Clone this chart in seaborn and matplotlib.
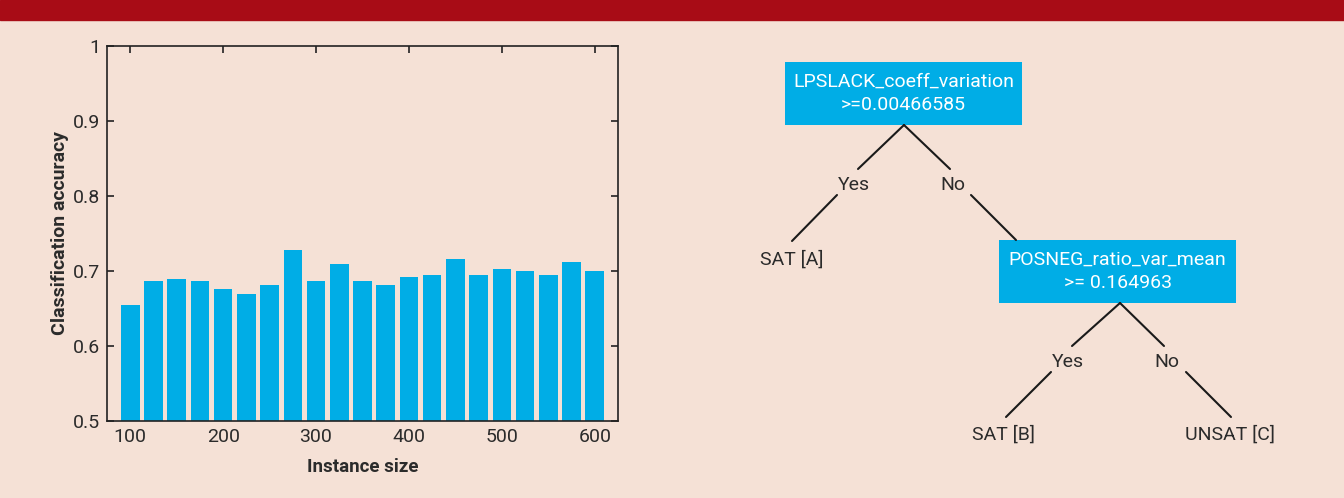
import matplotlib
matplotlib.use("Agg")
import matplotlib.pyplot as plt
import seaborn as sns
import numpy as np

# bar chart data
instance_size = [100, 125, 150, 175, 200, 225, 250, 275, 300, 325, 350,
                 375, 400, 425, 450, 475, 500, 525, 550, 575, 600]
accuracy = [0.654, 0.687, 0.689, 0.687, 0.676, 0.669, 0.681, 0.728, 0.687, 0.709, 0.687,
            0.681, 0.692, 0.695, 0.716, 0.695, 0.703, 0.700, 0.695, 0.712, 0.700]
yticks = [0.5, 0.6, 0.7, 0.8, 0.9, 1]
ytick_labels = ["0.5", "0.6", "0.7", "0.8", "0.9", "1"]
xticks = [100, 200, 300, 400, 500, 600]

# decision tree text
node_labels = ["LPSLACK_coeff_variation\n>=0.00466585", "POSNEG_ratio_var_mean\n>= 0.164963"]
leaf_labels = ["SAT [A]", "SAT [B]", "UNSAT [C]"]
branch_labels = ["Yes", "No", "Yes", "No"]

BG = "#f5e1d6"
BLUE = "#00ade6"
RED = "#a80c16"
TXT = "#2b2b2b"

sns.set_theme(style="ticks")
plt.rcParams["font.family"] = ["Roboto", "DejaVu Sans"]

fig = plt.figure(figsize=(13.44, 4.98), dpi=100, facecolor=BG)

# red stripe along the top
fig.patches.append(plt.Rectangle((0, 1 - 20 / 498), 1, 20 / 498, transform=fig.transFigure,
                                 color=RED, zorder=0))

ax = fig.add_axes([107 / 1344, 77 / 498, 511 / 1344, 375 / 498])
ax.set_facecolor(BG)
sns.barplot(x=instance_size, y=accuracy, native_scale=True, color=BLUE,
            saturation=1, width=0.8, linewidth=0, edgecolor=BLUE, ax=ax, zorder=1)
ax.set_xlim(75, 625)
ax.set_ylim(0.5, 1)
ax.set_xticks(xticks)
ax.set_xticklabels([str(t) for t in xticks])
ax.set_yticks(yticks)
ax.set_yticklabels(ytick_labels)
ax.tick_params(direction="in", top=True, right=True, length=5, width=1.2,
               labelsize=14, color="#222222", labelcolor=TXT, pad=5)
for s in ax.spines.values():
    s.set_linewidth(1.2)
    s.set_color("#222222")
    s.set_zorder(3)
ax.set_xlabel("Instance size", fontsize=13.5, fontweight="bold", color=TXT, labelpad=9)
ax.set_ylabel("Classification accuracy", fontsize=14, fontweight="bold", color=TXT, labelpad=3)

# tree diagram, drawn in pixel space
tx = fig.add_axes([0, 0, 1, 1], facecolor="none")
tx.set_xlim(0, 1344)
tx.set_ylim(498, 0)
tx.axis("off")

boxes = [(785, 62, 237, 63), (999, 240, 237, 63)]
for (bx, by, bw, bh), lab in zip(boxes, node_labels):
    tx.add_patch(plt.Rectangle((bx, by), bw, bh, color=BLUE, lw=0))
    tx.text(bx + bw / 2, by + bh / 2, lab, color="white", ha="center", va="center",
            fontsize=14, linespacing=1.4)

edges = [((904, 125), (858, 169)), ((904, 125), (950, 169)),
         ((837, 195), (792, 241)), ((971, 195), (1016, 240)),
         ((1120, 303), (1072, 346)), ((1120, 303), (1164, 346)),
         ((1051, 372), (1006, 417)), ((1186, 372), (1231, 417))]
for (x0, y0), (x1, y1) in edges:
    tx.plot([x0, x1], [y0, y1], color="#1a1a1a", lw=1.5)

branch_pos = [(854, 185), (953, 185), (1068, 362), (1167, 362)]
for (px, py), lab in zip(branch_pos, branch_labels):
    tx.text(px, py, lab, ha="center", va="center", fontsize=14, color=TXT)

leaf_pos = [(792, 260), (1003, 435), (1230, 435)]
for (px, py), lab in zip(leaf_pos, leaf_labels):
    tx.text(px, py, lab, ha="center", va="center", fontsize=14, color=TXT)

fig.savefig("out.png", dpi=100, facecolor=BG)
